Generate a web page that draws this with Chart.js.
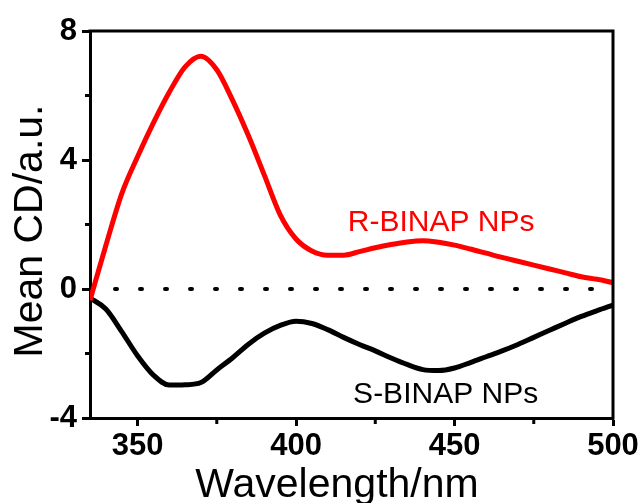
<!DOCTYPE html>
<html>
<head>
<meta charset="utf-8">
<script src="https://cdn.jsdelivr.net/npm/chart.js@4.4.0/dist/chart.umd.min.js"></script>
<style>
  html, body { margin: 0; padding: 0; background: #fff; }
  #wrap { width: 644px; height: 503px; }
</style>
</head>
<body>
<div id="wrap"><canvas id="cdChart" width="644" height="503"></canvas></div>
<script>
// Wavelength grid (nm) and mean CD values
const wavelengths = [335, 340, 345, 350, 355, 360, 365, 370, 375, 380, 385, 390, 395, 400,
  405, 410, 415, 420, 425, 430, 435, 440, 445, 450, 455, 460, 465, 470, 475, 480,
  485, 490, 495, 500];
const rBinapCD = [-0.35, 1.35, 2.95, 4.1, 5.15, 6.1, 6.89, 7.22, 6.8, 5.85, 4.75, 3.53, 2.3, 1.55,
  1.18, 1.05, 1.05, 1.16, 1.28, 1.38, 1.46, 1.5, 1.45, 1.36, 1.24, 1.11, 0.98, 0.86, 0.74, 0.62,
  0.5, 0.38, 0.3, 0.2];
const sBinapCD = [-0.28, -0.62, -1.32, -2.07, -2.67, -2.98, -2.97, -2.9, -2.51, -2.13, -1.71, -1.37, -1.13, -1.0,
  -1.07, -1.26, -1.5, -1.72, -1.92, -2.14, -2.34, -2.5, -2.53, -2.45, -2.28, -2.1, -1.92, -1.72, -1.5, -1.28,
  -1.06, -0.85, -0.67, -0.5];

// Axis ticks
const xMajorTicks = [350, 400, 450, 500];
const xMinorTicks = [375, 425, 475];
const yMajorTicks = [-4, 0, 4, 8];
const yMinorTicks = [-2, 2, 6];

const FONT = "'Liberation Sans', Arial, sans-serif";

function toPoints(values) {
  return wavelengths.map((w, i) => ({ x: w, y: values[i] }));
}

// Frame, minor ticks, axis titles and curve labels
const framePlugin = {
  id: 'frame',
  afterDraw(chart) {
    const ctx = chart.ctx;
    const area = chart.chartArea;
    const xs = chart.scales.x;
    const ys = chart.scales.y;
    ctx.save();
    ctx.strokeStyle = '#000';
    ctx.lineWidth = 3;
    ctx.lineCap = 'square';
    // top and right borders
    ctx.beginPath();
    ctx.moveTo(area.left, area.top);
    ctx.lineTo(area.right, area.top);
    ctx.lineTo(area.right, area.bottom);
    ctx.stroke();
    // minor ticks
    ctx.lineCap = 'butt';
    xMinorTicks.forEach(v => {
      const px = xs.getPixelForValue(v);
      ctx.beginPath();
      ctx.moveTo(px, area.bottom);
      ctx.lineTo(px, area.bottom + 6);
      ctx.stroke();
    });
    yMinorTicks.forEach(v => {
      const py = ys.getPixelForValue(v);
      ctx.beginPath();
      ctx.moveTo(area.left, py);
      ctx.lineTo(area.left - 5, py);
      ctx.stroke();
    });

    // axis titles
    ctx.fillStyle = '#000';
    ctx.font = '41px ' + FONT;
    ctx.textAlign = 'center';
    ctx.textBaseline = 'alphabetic';
    ctx.fillText('Wavelength/nm', 337, 497);
    ctx.save();
    ctx.translate(42, 231);
    ctx.rotate(-Math.PI / 2);
    ctx.fillText('Mean CD/a.u.', 0, 0);
    ctx.restore();

    // curve labels
    ctx.font = '30px ' + FONT;
    ctx.fillStyle = '#ff0000';
    ctx.fillText('R-BINAP NPs', xs.getPixelForValue(445.8), ys.getPixelForValue(1.8));
    ctx.fillStyle = '#000';
    ctx.fillText('S-BINAP NPs', xs.getPixelForValue(447.2), ys.getPixelForValue(-3.53));
    ctx.restore();
  }
};

document.addEventListener('DOMContentLoaded', function() {
  const ctx = document.getElementById('cdChart');
  new Chart(ctx, {
    type: 'line',
    data: {
      datasets: [
        {
          label: 'zero',
          data: [{ x: 335, y: 0 }, { x: 500, y: 0 }],
          borderColor: '#000',
          borderWidth: 4,
          borderDash: [2, 23],
          borderCapStyle: 'round',
          pointRadius: 0,
          order: 3
        },
        {
          label: 'S-BINAP NPs',
          data: toPoints(sBinapCD),
          borderColor: '#000',
          borderWidth: 5,
          pointRadius: 0,
          cubicInterpolationMode: 'monotone',
          order: 2
        },
        {
          label: 'R-BINAP NPs',
          data: toPoints(rBinapCD),
          borderColor: '#ff0000',
          borderWidth: 5,
          pointRadius: 0,
          cubicInterpolationMode: 'monotone',
          order: 1
        }
      ]
    },
    options: {
      responsive: false,
      animation: false,
      devicePixelRatio: 1,
      layout: { padding: { top: 31, right: 31, left: 0, bottom: 0 } },
      plugins: { legend: { display: false }, tooltip: { enabled: false } },
      scales: {
        x: {
          type: 'linear',
          min: 335,
          max: 500,
          afterBuildTicks: scale => { scale.ticks = xMajorTicks.map(v => ({ value: v })); },
          afterFit: scale => { scale.height = 85; },
          ticks: {
            color: '#000',
            padding: 2,
            maxRotation: 0,
            font: { family: FONT, size: 31, weight: 'bold' }
          },
          grid: { drawOnChartArea: false, tickLength: 8, tickWidth: 3, tickColor: '#000' },
          border: { display: true, width: 3, color: '#000' }
        },
        y: {
          min: -4,
          max: 8,
          afterBuildTicks: scale => { scale.ticks = yMajorTicks.map(v => ({ value: v })); },
          afterFit: scale => { scale.width = 90; },
          ticks: {
            color: '#000',
            padding: 5,
            font: { family: FONT, size: 31, weight: 'bold' }
          },
          grid: { drawOnChartArea: false, tickLength: 8, tickWidth: 3, tickColor: '#000' },
          border: { display: true, width: 3, color: '#000' }
        }
      }
    },
    plugins: [framePlugin]
  });
});
</script>
</body>
</html>
